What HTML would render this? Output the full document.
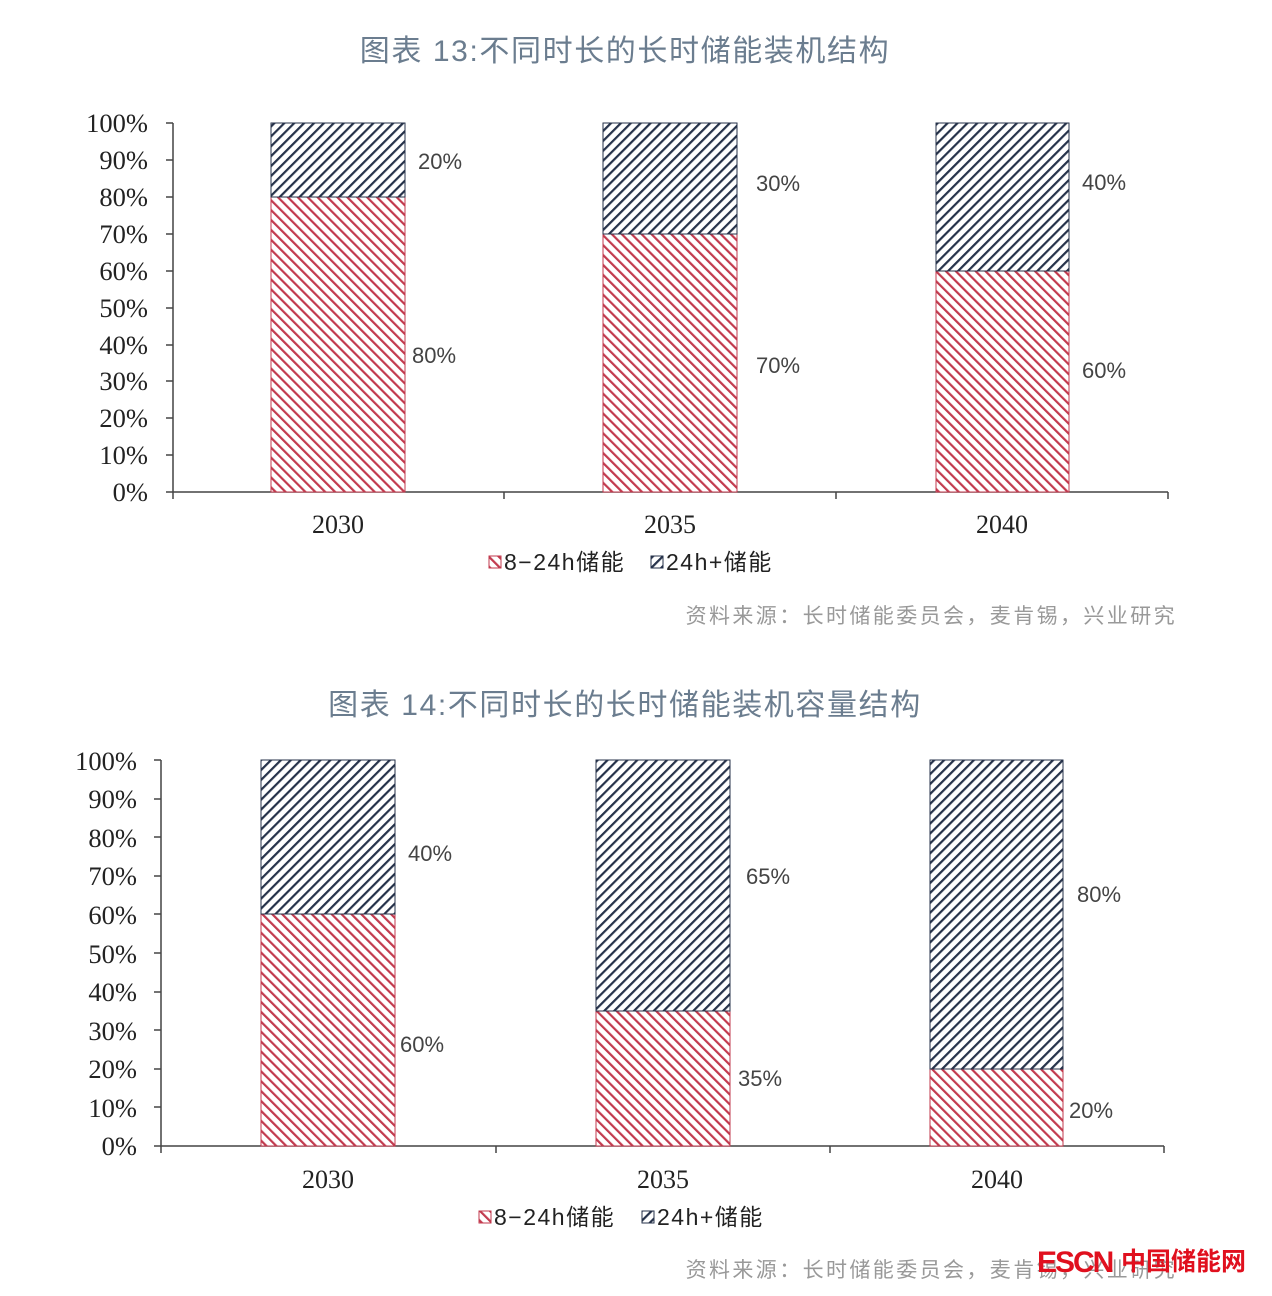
<!DOCTYPE html>
<html><head><meta charset="utf-8"><style>
html,body{margin:0;padding:0;background:#fff;}
svg{display:block;}
.t{font-family:"Liberation Sans","Noto Sans CJK SC",sans-serif;fill:#6b7d8f;font-size:30px;letter-spacing:1.6px;}
.ax{font-family:"Liberation Serif","Noto Serif CJK SC",serif;font-size:26.5px;fill:#222;}
.yr{font-family:"Liberation Serif","Noto Serif CJK SC",serif;font-size:26px;fill:#222;}
.lb{font-family:"Liberation Sans","Noto Sans CJK SC",sans-serif;font-size:22px;fill:#444;}
.lg{font-family:"Liberation Sans","Noto Sans CJK SC",sans-serif;font-size:23px;fill:#222;letter-spacing:1.5px;}
.src{font-family:"Liberation Sans","Noto Sans CJK SC",sans-serif;font-size:21px;fill:#999;letter-spacing:2.4px;}
</style></head><body>
<svg width="1272" height="1296" viewBox="0 0 1272 1296" xmlns="http://www.w3.org/2000/svg">
<defs>
<pattern id="r" patternUnits="userSpaceOnUse" width="7" height="7" patternTransform="rotate(-45)">
<rect width="7" height="7" fill="#fff"/><rect width="2.2" height="7" fill="#c23a4e"/></pattern>
<pattern id="b" patternUnits="userSpaceOnUse" width="7" height="7" patternTransform="rotate(45)">
<rect width="7" height="7" fill="#fff"/><rect width="2.2" height="7" fill="#26324a"/></pattern>
</defs>

<!-- Chart 1 -->
<text class="t" x="625" y="61" text-anchor="middle">图表 13:不同时长的长时储能装机结构</text>
<g class="ax" text-anchor="end">
<text x="148" y="132">100%</text><text x="148" y="169">90%</text><text x="148" y="206">80%</text>
<text x="148" y="243">70%</text><text x="148" y="280">60%</text><text x="148" y="317">50%</text>
<text x="148" y="354">40%</text><text x="148" y="390">30%</text><text x="148" y="427">20%</text>
<text x="148" y="464">10%</text><text x="148" y="501">0%</text>
</g>
<g stroke="#444" stroke-width="1.5">
<line x1="173" y1="123" x2="173" y2="492"/>
<line x1="173" y1="492" x2="1168" y2="492"/>
<line x1="166" y1="123" x2="173" y2="123"/><line x1="166" y1="160" x2="173" y2="160"/><line x1="166" y1="197" x2="173" y2="197"/>
<line x1="166" y1="234" x2="173" y2="234"/><line x1="166" y1="271" x2="173" y2="271"/><line x1="166" y1="308" x2="173" y2="308"/>
<line x1="166" y1="345" x2="173" y2="345"/><line x1="166" y1="381" x2="173" y2="381"/><line x1="166" y1="418" x2="173" y2="418"/>
<line x1="166" y1="455" x2="173" y2="455"/><line x1="166" y1="492" x2="173" y2="492"/>
<line x1="173" y1="492" x2="173" y2="499"/><line x1="504" y1="492" x2="504" y2="499"/><line x1="836" y1="492" x2="836" y2="499"/><line x1="1168" y1="492" x2="1168" y2="499"/>
</g>
<rect x="271" y="197" width="134" height="295" fill="url(#r)" stroke="#c23a4e" stroke-width="1"/>
<rect x="271" y="123" width="134" height="74" fill="url(#b)" stroke="#26324a" stroke-width="1"/>
<rect x="603" y="234" width="134" height="258" fill="url(#r)" stroke="#c23a4e" stroke-width="1"/>
<rect x="603" y="123" width="134" height="111" fill="url(#b)" stroke="#26324a" stroke-width="1"/>
<rect x="936" y="271" width="133" height="221" fill="url(#r)" stroke="#c23a4e" stroke-width="1"/>
<rect x="936" y="123" width="133" height="148" fill="url(#b)" stroke="#26324a" stroke-width="1"/>
<g class="lb">
<text x="418" y="169">20%</text><text x="412" y="363">80%</text>
<text x="756" y="191">30%</text><text x="756" y="373">70%</text>
<text x="1082" y="190">40%</text><text x="1082" y="378">60%</text>
</g>
<g class="yr" text-anchor="middle">
<text x="338" y="533">2030</text><text x="670" y="533">2035</text><text x="1002" y="533">2040</text>
</g>
<rect x="489" y="556" width="12" height="12" fill="url(#r)" stroke="#c23a4e"/>
<text class="lg" x="504" y="570">8−24h储能</text>
<rect x="651" y="556" width="12" height="12" fill="url(#b)" stroke="#26324a"/>
<text class="lg" x="666" y="570">24h+储能</text>
<text class="src" x="1177" y="623" text-anchor="end">资料来源：长时储能委员会，麦肯锡，兴业研究</text>

<!-- Chart 2 -->
<text class="t" x="625" y="715" text-anchor="middle">图表 14:不同时长的长时储能装机容量结构</text>
<g class="ax" text-anchor="end">
<text x="137" y="770">100%</text><text x="137" y="808">90%</text><text x="137" y="847">80%</text>
<text x="137" y="885">70%</text><text x="137" y="924">60%</text><text x="137" y="963">50%</text>
<text x="137" y="1001">40%</text><text x="137" y="1040">30%</text><text x="137" y="1078">20%</text>
<text x="137" y="1117">10%</text><text x="137" y="1155">0%</text>
</g>
<g stroke="#444" stroke-width="1.5">
<line x1="161" y1="760" x2="161" y2="1146"/>
<line x1="161" y1="1146" x2="1164" y2="1146"/>
<line x1="154" y1="760" x2="161" y2="760"/><line x1="154" y1="799" x2="161" y2="799"/><line x1="154" y1="837" x2="161" y2="837"/>
<line x1="154" y1="876" x2="161" y2="876"/><line x1="154" y1="914" x2="161" y2="914"/><line x1="154" y1="953" x2="161" y2="953"/>
<line x1="154" y1="992" x2="161" y2="992"/><line x1="154" y1="1030" x2="161" y2="1030"/><line x1="154" y1="1069" x2="161" y2="1069"/>
<line x1="154" y1="1107" x2="161" y2="1107"/><line x1="154" y1="1146" x2="161" y2="1146"/>
<line x1="161" y1="1146" x2="161" y2="1153"/><line x1="496" y1="1146" x2="496" y2="1153"/><line x1="830" y1="1146" x2="830" y2="1153"/><line x1="1164" y1="1146" x2="1164" y2="1153"/>
</g>
<rect x="261" y="914" width="134" height="232" fill="url(#r)" stroke="#c23a4e" stroke-width="1"/>
<rect x="261" y="760" width="134" height="154" fill="url(#b)" stroke="#26324a" stroke-width="1"/>
<rect x="596" y="1011" width="134" height="135" fill="url(#r)" stroke="#c23a4e" stroke-width="1"/>
<rect x="596" y="760" width="134" height="251" fill="url(#b)" stroke="#26324a" stroke-width="1"/>
<rect x="930" y="1069" width="133" height="77" fill="url(#r)" stroke="#c23a4e" stroke-width="1"/>
<rect x="930" y="760" width="133" height="309" fill="url(#b)" stroke="#26324a" stroke-width="1"/>
<g class="lb">
<text x="408" y="861">40%</text><text x="400" y="1052">60%</text>
<text x="746" y="884">65%</text><text x="738" y="1086">35%</text>
<text x="1077" y="902">80%</text><text x="1069" y="1118">20%</text>
</g>
<g class="yr" text-anchor="middle">
<text x="328" y="1188">2030</text><text x="663" y="1188">2035</text><text x="997" y="1188">2040</text>
</g>
<rect x="479" y="1211" width="12" height="12" fill="url(#r)" stroke="#c23a4e"/>
<text class="lg" x="494" y="1225">8−24h储能</text>
<rect x="642" y="1211" width="12" height="12" fill="url(#b)" stroke="#26324a"/>
<text class="lg" x="657" y="1225">24h+储能</text>
<text class="src" x="1177" y="1277" text-anchor="end">资料来源：长时储能委员会，麦肯锡，兴业研究</text>
<text x="1037" y="1272" font-family="Liberation Sans,sans-serif" font-weight="bold" font-size="30" fill="#e0101e" letter-spacing="-2">ESCN</text>
<text x="1121" y="1270" font-family="Liberation Sans,Noto Sans CJK SC,sans-serif" font-weight="bold" font-size="25" fill="#e0101e">中国储能网</text>
</svg>
</body></html>
